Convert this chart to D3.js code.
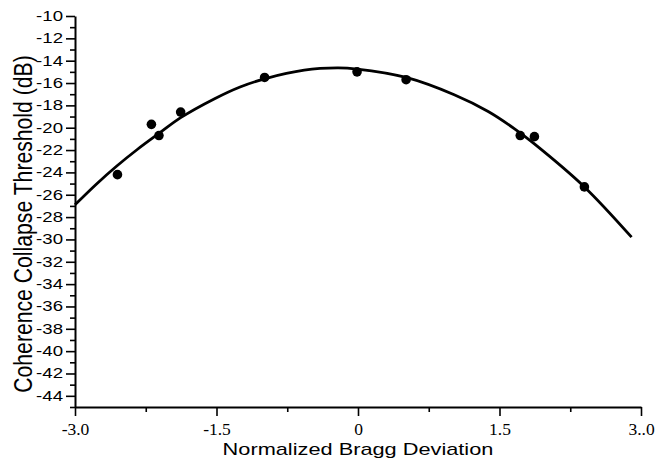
<html>
<head>
<title>Coherence Collapse Threshold</title>
<style>
body {
	margin: 0;
	background: white;
}
svg {
	display: block;
}
</style>
</head>
<body>
<svg width="659" height="466"></svg>
<script src="https://d3js.org/d3.v7.min.js"></script>
<script>
// measured points (Normalized Bragg Deviation, threshold in dB)
var pointX = [-2.55, -2.19, -2.11, -1.88, -0.99, -0.01, 0.51, 1.72, 1.87, 2.40];
var pointY = [-24.2, -19.7, -20.7, -18.6, -15.5, -15.0, -15.7, -20.7, -20.8, -25.3];

// fitted curve
var fitX = [-3.0, -2.78, -2.56, -2.34, -2.1, -1.88, -1.52, -1.25, -0.98, -0.57, -0.22, -0.01, 0.51, 1.02, 1.38, 1.66, 1.87, 2.40, 2.90];
var fitY = [-26.9, -25.1, -23.45, -21.95, -20.45, -19.1, -17.4, -16.35, -15.6, -14.85, -14.65, -14.75, -15.5, -17.05, -18.55, -20.1, -21.45, -25.3, -29.8];

// tick values and labels
var yMajor = [-10, -12, -14, -16, -18, -20, -22, -24, -26, -28, -30, -32, -34, -36, -38, -40, -42, -44];
var yMinor = [-11, -13, -15, -17, -19, -21, -23, -25, -27, -29, -31, -33, -35, -37, -39, -41, -43, -45];
var xMajor = [-3.0, -1.5, 0, 1.5, 3.0];
var xMajorLabels = ["-3.0", "-1.5", "0", "1.5", "3..0"];
var xMinor = [-2.25, -0.75, 0.75, 2.25];

var svg = d3.select("svg");

var x = d3.scaleLinear().domain([-3, 3]).range([75, 641]);
var y = d3.scaleLinear().domain([-45, -10]).range([407, 16]);

// y axis: minor ticks first, then major with labels
svg.append("g")
	.attr("transform", "translate(75,0)")
	.call(d3.axisLeft(y).tickValues(yMinor).tickSize(5).tickSizeOuter(0).tickFormat(""))
	.call(function(g) { g.select(".domain").remove(); });

var yAxis = svg.append("g")
	.attr("transform", "translate(75,0)")
	.call(d3.axisLeft(y).tickValues(yMajor).tickSize(9).tickSizeOuter(0).tickFormat(function(d) { return String(d); }));

yAxis.selectAll("text")
	.attr("x", -12 / 1.33)
	.attr("transform", "scale(1.33,1)")
	.style("font-family", "'Liberation Sans', Arial, sans-serif")
	.style("font-size", "14px")
	.style("fill", "black");

// x axis
svg.append("g")
	.attr("transform", "translate(0,407)")
	.call(d3.axisBottom(x).tickValues(xMinor).tickSize(5).tickSizeOuter(0).tickFormat(""))
	.call(function(g) { g.select(".domain").remove(); });

var xAxis = svg.append("g")
	.attr("transform", "translate(0,407)")
	.call(d3.axisBottom(x).tickValues(xMajor).tickSize(9).tickSizeOuter(0)
		.tickFormat(function(d, i) { return xMajorLabels[i]; }));

xAxis.selectAll("text")
	.attr("y", 28)
	.attr("dy", 0)
	.style("font-family", "'Liberation Serif', 'Times New Roman', serif")
	.style("font-size", "17.5px")
	.style("fill", "black");

// axis line styles
svg.selectAll(".domain").attr("stroke", "black").attr("stroke-width", 2);
svg.selectAll(".tick line").attr("stroke", "black").attr("stroke-width", 1.6);

// axis titles
svg.append("text")
	.attr("transform", "translate(358,455) scale(1.28,1)")
	.attr("text-anchor", "middle")
	.style("font-family", "'Liberation Sans', Arial, sans-serif")
	.style("font-size", "17px")
	.text("Normalized Bragg Deviation");

svg.append("text")
	.attr("transform", "translate(31.5,224) rotate(-90) scale(1,1.22)")
	.attr("text-anchor", "middle")
	.style("font-family", "'Liberation Sans', Arial, sans-serif")
	.style("font-size", "21.2px")
	.text("Coherence Collapse Threshold (dB)");

// fitted curve
var line = d3.line()
	.x(function(d) { return x(d[0]); })
	.y(function(d) { return y(d[1]); })
	.curve(d3.curveCatmullRom);

svg.append("path")
	.datum(d3.zip(fitX, fitY))
	.attr("d", line)
	.attr("fill", "none")
	.attr("stroke", "black")
	.attr("stroke-width", 2.8);

// data points
svg.selectAll("circle")
	.data(d3.zip(pointX, pointY))
	.enter()
	.append("circle")
	.attr("cx", function(d) { return x(d[0]); })
	.attr("cy", function(d) { return y(d[1]); })
	.attr("r", 4.8)
	.attr("fill", "black");
</script>
</body>
</html>
